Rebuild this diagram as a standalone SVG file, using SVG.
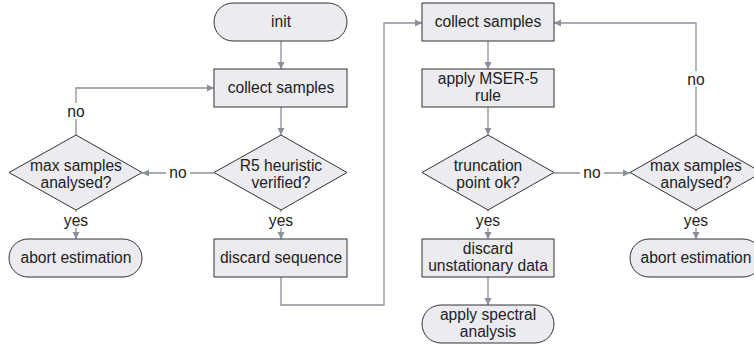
<svg xmlns="http://www.w3.org/2000/svg" width="754" height="347" viewBox="0 0 754 347">
<style>
.s{fill:#ebebf0;stroke:#333;stroke-width:1}
.t{font-family:"Liberation Sans",Arial,sans-serif;font-size:15.6px;fill:#222;text-anchor:middle}
.c{fill:none;stroke:#8a9099;stroke-width:1.3}
.a{marker-end:url(#ah)}
.bg{fill:#fff}
</style>
<defs>
<marker id="ah" markerWidth="8" markerHeight="8" refX="7" refY="4" orient="auto" markerUnits="userSpaceOnUse">
<path d="M0,0.5 L7,4 L0,7.5 Z" fill="#8a9099"/>
</marker>
</defs>
<rect width="754" height="347" fill="#fff"/>
<g id="connectors">
<path class="c a" d="M281,41 V69"/>
<path class="c a" d="M281,107 V135"/>
<path class="c a" d="M214,173 H142"/>
<path class="c a" d="M76,135 V88 H214"/>
<path class="c a" d="M76,210 V239"/>
<path class="c a" d="M281,210 V239"/>
<path class="c a" d="M281,277 V305 H384 V23 H422"/>
<path class="c a" d="M488,41 V69"/>
<path class="c a" d="M488,107 V135"/>
<path class="c a" d="M554,173 H630"/>
<path class="c a" d="M696,135 V23 H554"/>
<path class="c a" d="M488,210 V239"/>
<path class="c a" d="M488,277 V305"/>
<path class="c a" d="M696,210 V239"/>
<rect class="bg" x="64" y="103" width="24" height="16"/>
<text class="t" x="76" y="117">no</text>
<rect class="bg" x="166" y="165" width="24" height="16"/>
<text class="t" x="178" y="178">no</text>
<rect class="bg" x="62" y="212" width="28" height="16"/>
<text class="t" x="76" y="226">yes</text>
<rect class="bg" x="267" y="212" width="28" height="16"/>
<text class="t" x="281" y="226">yes</text>
<rect class="bg" x="580" y="165" width="24" height="16"/>
<text class="t" x="592" y="178">no</text>
<rect class="bg" x="684" y="71" width="24" height="16"/>
<text class="t" x="696" y="85">no</text>
<rect class="bg" x="474" y="212" width="28" height="16"/>
<text class="t" x="488" y="226">yes</text>
<rect class="bg" x="682" y="212" width="28" height="16"/>
<text class="t" x="696" y="226">yes</text>
</g>
<g id="init">
<rect class="s" x="214" y="3" width="133" height="38" rx="19"/>
<text class="t" x="281" y="27">init</text>
</g>
<g id="collect1">
<rect class="s" x="214" y="69" width="133" height="38"/>
<text class="t" x="281" y="93">collect samples</text>
</g>
<g id="r5">
<polygon class="s" points="281,135 347,172.5 281,210 214,172.5"/>
<text class="t" x="281" y="171">R5 heuristic</text>
<text class="t" x="281" y="188">verified?</text>
</g>
<g id="max1">
<polygon class="s" points="76,135 142,172.5 76,210 9,172.5"/>
<text class="t" x="76" y="171">max samples</text>
<text class="t" x="76" y="188">analysed?</text>
</g>
<g id="abort1">
<rect class="s" x="9" y="239" width="133" height="38" rx="19"/>
<text class="t" x="76" y="263">abort estimation</text>
</g>
<g id="discardseq">
<rect class="s" x="214" y="239" width="133" height="38"/>
<text class="t" x="281" y="263">discard sequence</text>
</g>
<g id="collect2">
<rect class="s" x="422" y="3" width="132" height="38"/>
<text class="t" x="488" y="27">collect samples</text>
</g>
<g id="mser">
<rect class="s" x="422" y="69" width="132" height="38"/>
<text class="t" x="488" y="84">apply MSER-5</text>
<text class="t" x="488" y="101">rule</text>
</g>
<g id="trunc">
<polygon class="s" points="488,135 554,172.5 488,210 422,172.5"/>
<text class="t" x="488" y="171">truncation</text>
<text class="t" x="488" y="188">point ok?</text>
</g>
<g id="max2">
<polygon class="s" points="696,135 762,172.5 696,210 630,172.5"/>
<text class="t" x="696" y="171">max samples</text>
<text class="t" x="696" y="188">analysed?</text>
</g>
<g id="discarddata">
<rect class="s" x="422" y="239" width="132" height="38"/>
<text class="t" x="488" y="254">discard</text>
<text class="t" x="488" y="271">unstationary data</text>
</g>
<g id="spectral">
<rect class="s" x="422" y="305" width="132" height="38" rx="19"/>
<text class="t" x="488" y="320">apply spectral</text>
<text class="t" x="488" y="337">analysis</text>
</g>
<g id="abort2">
<rect class="s" x="630" y="239" width="132" height="38" rx="19"/>
<text class="t" x="696" y="263">abort estimation</text>
</g>
</svg>
